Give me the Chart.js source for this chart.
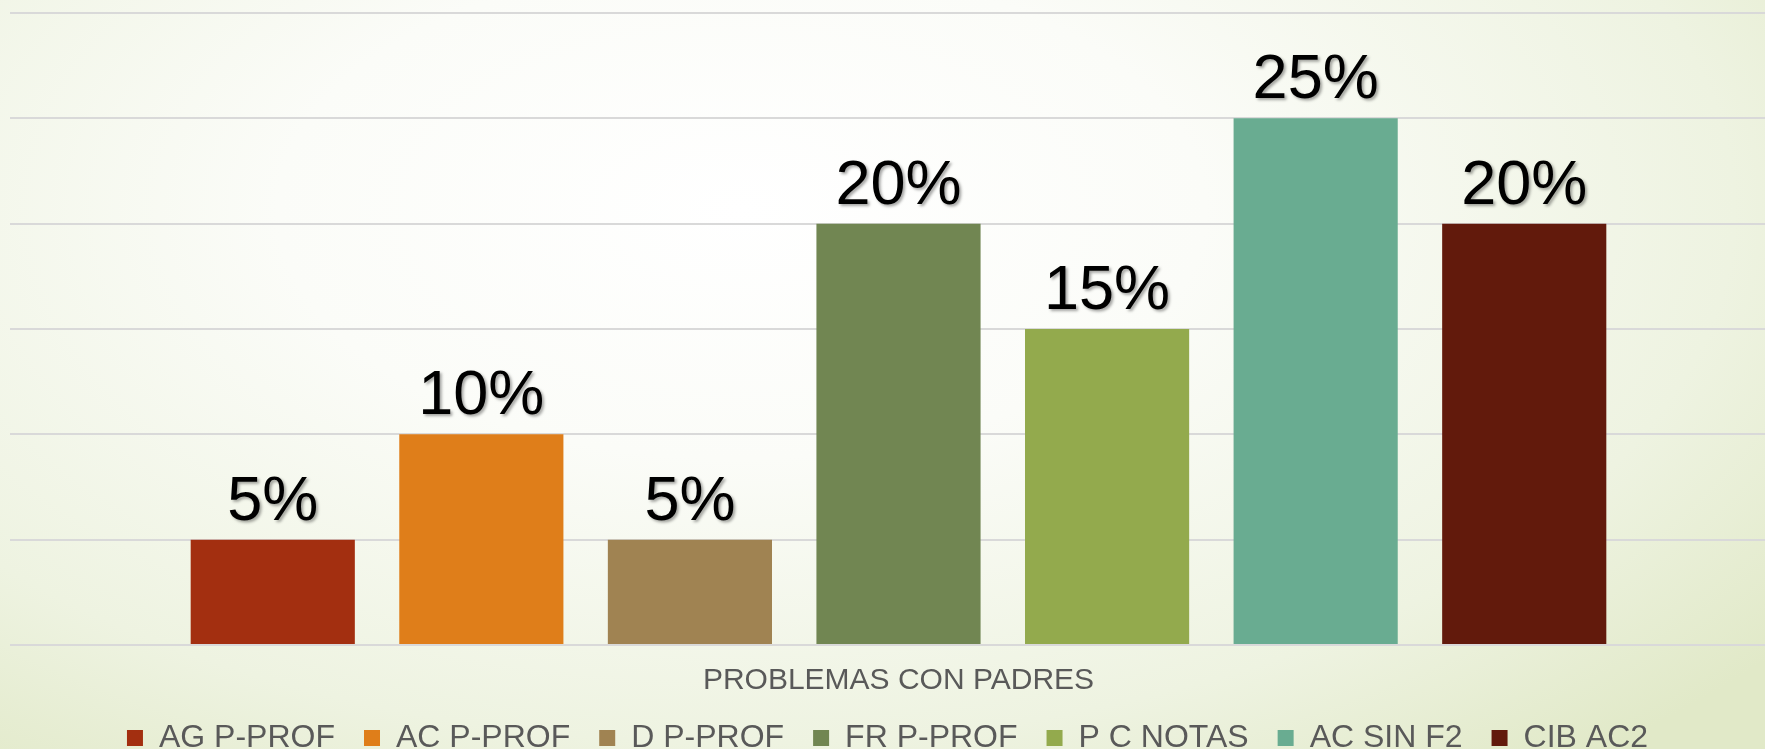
<!DOCTYPE html>
<html>
<head>
<meta charset="utf-8">
<script src="https://cdn.jsdelivr.net/npm/chart.js@4.4.1/dist/chart.umd.min.js"></script>
<style>
  html, body { margin: 0; padding: 0; width: 1765px; height: 749px; overflow: hidden; }
  body {
    background: radial-gradient(ellipse 75% 95% at 42% 28%, #ffffff 0%, #fbfcf8 35%, #eef3e1 75%, #e1e9c8 100%);
  }
  #wrap { position: relative; width: 1765px; height: 749px; }
</style>
</head>
<body>
<div id="wrap"><canvas id="chart"></canvas></div>
<script>
const categories = ["PROBLEMAS CON PADRES"];
const seriesNames = ["AG P-PROF", "AC P-PROF", "D P-PROF", "FR P-PROF", "P C NOTAS", "AC SIN F2", "CIB AC2"];
const seriesValues = [5, 10, 5, 20, 15, 25, 20];
const seriesColors = ["#a32f10", "#df7e1a", "#a08352", "#718652", "#93aa4d", "#69ac91", "#621a0c"];
const yTicks = [0, 5, 10, 15, 20, 25, 30];

const FONT = "'Liberation Sans', Arial, sans-serif";

// labels above each bar, drawn from the bar elements
const valueLabels = {
  id: "valueLabels",
  afterDatasetsDraw(chart) {
    const ctx = chart.ctx;
    ctx.save();
    ctx.font = "63px " + FONT;
    ctx.fillStyle = "#000";
    ctx.textAlign = "center";
    ctx.textBaseline = "alphabetic";
    ctx.shadowColor = "rgba(0,0,0,0.35)";
    ctx.shadowBlur = 3;
    ctx.shadowOffsetX = 2;
    ctx.shadowOffsetY = 2;
    chart.data.datasets.forEach((ds, i) => {
      const bar = chart.getDatasetMeta(i).data[0];
      ctx.fillText(ds.data[0] + "%", bar.x, bar.y - 20);
    });
    ctx.restore();
  }
};

const datasets = seriesNames.map((name, i) => ({
  label: name,
  data: [seriesValues[i]],
  backgroundColor: seriesColors[i],
  borderWidth: 0,
  categoryPercentage: 0.8425,
  barPercentage: 0.787
}));

new Chart(document.getElementById("chart"), {
  type: "bar",
  data: { labels: categories, datasets: datasets },
  options: {
    responsive: true,
    maintainAspectRatio: false,
    animation: false,
    layout: { padding: { left: 10, right: 0, top: 13, bottom: -15 } },
    plugins: {
      tooltip: { enabled: false },
      legend: {
        position: "bottom",
        labels: {
          font: { family: FONT, size: 32 },
          color: "#595959",
          boxWidth: 16,
          boxHeight: 16,
          padding: 29
        }
      }
    },
    scales: {
      x: {
        grid: { display: false, drawTicks: false },
        border: { display: false },
        ticks: { font: { family: FONT, size: 30 }, color: "#595959", padding: 18 },
        afterFit: (axis) => { axis.height = 48; }
      },
      y: {
        min: 0,
        max: 30,
        afterBuildTicks: (axis) => { axis.ticks = yTicks.map(v => ({ value: v })); },
        grid: { color: "#d9d9d9", lineWidth: 2, drawTicks: true, tickLength: 22 },
        border: { display: false },
        ticks: { display: false }
      }
    }
  },
  plugins: [valueLabels]
});
</script>
</body>
</html>
